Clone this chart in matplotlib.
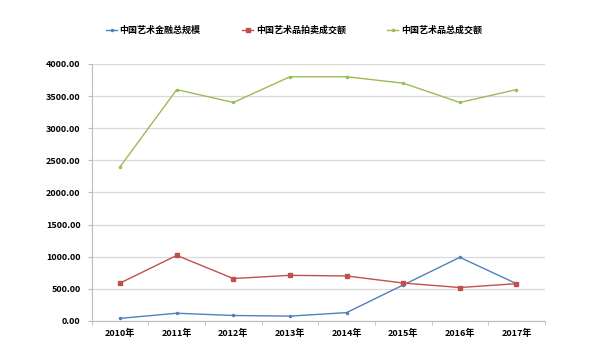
import numpy as np
import matplotlib
matplotlib.use("Agg")
import matplotlib.pyplot as plt

plt.rcParams['font.family'] = ['Noto Sans CJK SC', 'DejaVu Sans']

years = ['2010年', '2011年', '2012年', '2013年', '2014年', '2015年', '2016年', '2017年']
finance_total = [40, 120, 85, 75, 130, 560, 990, 580]
auction_total = [590, 1020, 660, 710, 700, 590, 520, 580]
art_total = [2400, 3600, 3400, 3800, 3800, 3700, 3400, 3600]
names = ['中国艺术金融总规模', '中国艺术品拍卖成交额', '中国艺术品总成交额']
colors = ['#4F81BD', '#C0504D', '#9BBB59']

fig = plt.figure(figsize=(6, 3.57), dpi=100)
ax = fig.add_axes([0.153, 0.101, 0.755, 0.72])

x = np.arange(len(years))
series = [finance_total, auction_total, art_total]
markers = ['.', 's', '.']
lines = []
for s, c, m, n in zip(series, colors, markers, names):
    l, = ax.plot(x, s, color=c, marker=m, markersize=3, linewidth=1.0, label=n)
    lines.append(l)

ax.set_xlim(-0.5, len(years) - 0.5)
ax.set_ylim(0, 4000)
ax.set_yticks(np.arange(0, 4001, 500))
ax.set_yticklabels(['%.2f' % v for v in np.arange(0, 4001, 500)], fontsize=6.5, fontweight='bold')
ax.set_xticks(x)
ax.set_xticklabels(years, fontsize=6.5, fontweight='bold')
ax.set_xticks(np.arange(-0.5, len(years)), minor=True)
ax.tick_params(axis='x', which='major', length=0, pad=6)
ax.tick_params(axis='x', which='minor', length=3, color='#bbbbbb')
ax.tick_params(axis='y', length=3, color='#bbbbbb', pad=5)

ax.grid(axis='y', color='#d9d9d9', linewidth=0.9)
ax.set_axisbelow(True)
for sp in ['top', 'right']:
    ax.spines[sp].set_visible(False)
ax.spines['left'].set_color('#bbbbbb')
ax.spines['bottom'].set_color('#bbbbbb')

fig.legend(handles=lines, labels=names, loc='center', bbox_to_anchor=(0.49, 0.915),
           ncol=3, frameon=False, prop={'size': 6.5, 'weight': 'bold'},
           handlelength=1.2, handletextpad=0.3, columnspacing=4.6)

fig.savefig('out.png', dpi=100)
